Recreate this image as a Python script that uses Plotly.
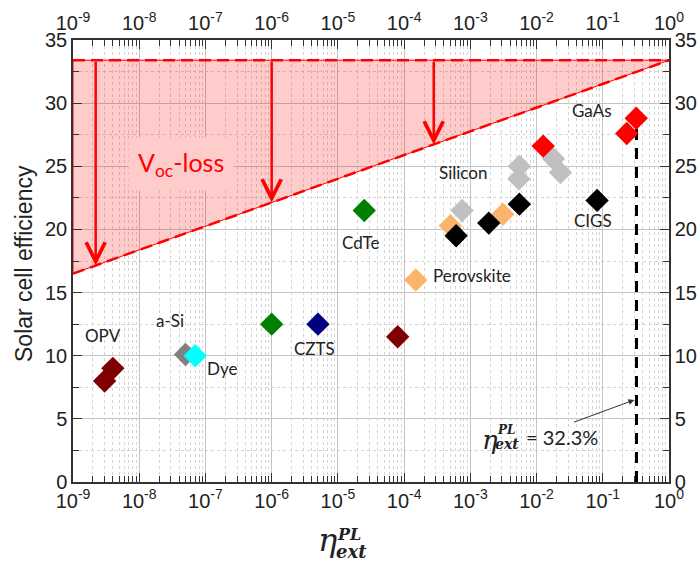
import numpy as np
import plotly.graph_objects as go

# External photoluminescence quantum efficiency (eta_ext^PL) vs. cell efficiency (%)
opv_eta = [3e-9, 4e-9, 8e-5]
opv_eff = [8.0, 9.0, 11.5]
asi_eta = [5e-8]
asi_eff = [10.1]
dye_eta = [7e-8]
dye_eff = [10.0]
cdte_eta = [1e-6, 2.5e-5]
cdte_eff = [12.5, 21.5]
czts_eta = [5e-6]
czts_eff = [12.5]
perov_eta = [1.5e-4, 5e-4, 3.1e-3]
perov_eff = [16.0, 20.3, 21.2]
si_eta = [7.5e-4, 5.5e-3, 5.4e-3, 1.8e-2, 2.3e-2]
si_eff = [21.5, 25.0, 24.0, 25.6, 24.5]
cigs_eta = [6.1e-4, 1.9e-3, 5.5e-3, 8.2e-2]
cigs_eff = [19.5, 20.5, 22.0, 22.3]
gaas_eta = [1.26e-2, 0.23, 0.32]
gaas_eff = [26.6, 27.6, 28.8]

# Radiative (SQ) limit and the Voc-loss boundary (straight in log eta)
sq_limit = 33.4
loss_eta = [1e-9, 1.0]
loss_eff = [16.5, 33.4]
arrow_eta = [2.2e-9, 1e-6, 2.8e-4]
best_eta = 0.323
best_eff = 28.8

# Axis ticks
x_tickvals = [1e-9, 1e-8, 1e-7, 1e-6, 1e-5, 1e-4, 1e-3, 1e-2, 1e-1, 1e0]
x_ticktext = ["10<sup>-9</sup>", "10<sup>-8</sup>", "10<sup>-7</sup>", "10<sup>-6</sup>",
              "10<sup>-5</sup>", "10<sup>-4</sup>", "10<sup>-3</sup>", "10<sup>-2</sup>",
              "10<sup>-1</sup>", "10<sup>0</sup>"]
y_tickvals = [0, 5, 10, 15, 20, 25, 30, 35]

labels = ["OPV", "a-Si", "Dye", "CZTS", "CdTe", "Perovskite", "Silicon", "GaAs", "CIGS"]
label_eta = [2.8e-9, 2.9e-8, 1.8e-7, 4.4e-6, 2.2e-5, 1.06e-3, 7.8e-4, 6.9e-2, 7.2e-2]
label_eff = [11.6, 12.8, 9.0, 10.6, 19.0, 16.35, 24.5, 29.4, 20.7]

minor_x = [m * 10.0 ** k for k in range(-9, 0) for m in range(2, 10)]

FONT = "Liberation Sans, Arial, sans-serif"
LBLFONT = "Lato, Open Sans, sans-serif"
MATH = "DejaVu Serif, serif"
INK = "#222222"

# Plot-area pixel geometry (used for paper-referenced text placement)
L, R, T, B = 73, 30, 40, 84
W, H = 699, 566
PW, PH = W - L - R, H - T - B


def px_x(p):
    return (p - L) / PW


def px_y(p):
    return (H - B - p) / PH


def note(px, py, text, size, family=MATH, **kw):
    d = dict(x=px_x(px), y=px_y(py), xref="paper", yref="paper", text=text,
             xanchor="center", yanchor="middle", showarrow=False,
             font=dict(family=family, size=size, color=INK))
    d.update(kw)
    return d


fig = go.Figure()

# Shaded Voc-loss region between the SQ limit and the loss boundary
fig.add_trace(go.Scatter(
    x=[loss_eta[0], loss_eta[1], loss_eta[0], loss_eta[0]],
    y=[sq_limit, sq_limit, loss_eff[0], sq_limit],
    mode="lines", fill="toself", fillcolor="rgba(255,0,0,0.2)",
    line=dict(color="#ff0000", width=1), hoverinfo="skip", showlegend=False))
fig.add_trace(go.Scatter(
    x=loss_eta, y=[sq_limit, sq_limit], mode="lines",
    line=dict(color="#ff0000", width=2.5, dash="12px,6px"),
    hoverinfo="skip", showlegend=False))
fig.add_trace(go.Scatter(
    x=loss_eta, y=loss_eff, mode="lines",
    line=dict(color="#ff0000", width=2.5, dash="12px,6px"),
    hoverinfo="skip", showlegend=False))

# Vertical marker at the best eta_ext
fig.add_trace(go.Scatter(
    x=[best_eta, best_eta], y=[0, best_eff], mode="lines",
    line=dict(color="#000000", width=3, dash="11px,8px"),
    hoverinfo="skip", showlegend=False))

series = [
    (opv_eta, opv_eff, "#7f0000"),
    (asi_eta, asi_eff, "#808080"),
    (dye_eta, dye_eff, "#00ffff"),
    (cdte_eta, cdte_eff, "#008000"),
    (czts_eta, czts_eff, "#000080"),
    (perov_eta, perov_eff, "#fbb46c"),
    (si_eta, si_eff, "#c0c0c0"),
    (cigs_eta, cigs_eff, "#000000"),
    (gaas_eta, gaas_eff, "#ff0000"),
]
for xs, ys, col in series:
    fig.add_trace(go.Scatter(
        x=xs, y=ys, mode="markers",
        marker=dict(symbol="diamond", size=18, color=col, line=dict(width=0)),
        showlegend=False))

# Invisible trace to carry the top and right mirror axes
fig.add_trace(go.Scatter(x=loss_eta, y=[0, 35], xaxis="x2", yaxis="y2",
                         mode="markers", marker=dict(opacity=0),
                         hoverinfo="skip", showlegend=False))

ann = []
# Voc-loss arrows
slope = (loss_eff[1] - loss_eff[0]) / (np.log10(loss_eta[1]) - np.log10(loss_eta[0]))
for e in arrow_eta:
    lx = np.log10(e)
    tip = loss_eff[0] + slope * (lx - np.log10(loss_eta[0]))
    ann.append(dict(x=lx, y=tip, ax=lx, ay=sq_limit, xref="x", yref="y",
                    axref="x", ayref="y", showarrow=True, arrowhead=5,
                    arrowsize=1.5, arrowwidth=2.5, arrowcolor="#ff0000", text=""))

ann.append(dict(x=np.log10(4.2e-8), y=25.2, xref="x", yref="y",
                xanchor="center", yanchor="middle",
                text="V<sub>oc</sub>-loss", showarrow=False,
                font=dict(family=LBLFONT, size=25, color="#ff0000"),
                bgcolor="#ffcccc", borderpad=9))

for t, ex, ef in zip(labels, label_eta, label_eff):
    ann.append(dict(x=np.log10(ex), y=ef, xref="x", yref="y", text=t,
                    xanchor="center", yanchor="middle",
                    showarrow=False, font=dict(family=LBLFONT, size=17, color=INK)))

# eta_ext^PL = 32.3 % callout
ann.append(dict(x=np.log10(0.3), y=6.5, ax=np.log10(3.5e-2), ay=4.7,
                xref="x", yref="y", axref="x", ayref="y", showarrow=True,
                arrowhead=2, arrowsize=1.2, arrowwidth=1, arrowcolor="#333333", text=""))

shapes = [dict(type="rect", xref="paper", yref="paper", layer="below",
               x0=px_x(474), x1=px_x(602), y0=px_y(456), y1=px_y(408),
               fillcolor="#ffffff", line=dict(width=0))]

ann += [
    note(490, 440, "<i>η</i>", 26),
    note(506, 430, "<i><b>PL</b></i>", 12),
    note(507, 444, "<i><b>ext</b></i>", 14),
    note(524, 437, "= 32.3%", 20, family=LBLFONT, xanchor="left"),
    # x-axis title
    note(327, 540, "<i>η</i>", 32),
    note(349, 534, "<i><b>PL</b></i>", 16),
    note(351, 551, "<i><b>ext</b></i>", 18),
    # y-axis title
    note(24, 264, "Solar cell efficiency", 23, family=FONT, textangle=-90),
]

axis_common = dict(
    showline=True, linecolor="#333333", linewidth=1.5, mirror=False,
    ticks="inside", tickcolor="#333333", tickwidth=1.2, ticklen=9,
    tickfont=dict(family=FONT, size=20, color=INK),
    zeroline=False, layer="above traces", automargin=False)

xcommon = dict(axis_common, type="log", range=[-9, 0], tickmode="array",
               tickvals=x_tickvals, ticktext=x_ticktext)
ycommon = dict(axis_common, range=[0, 35], tickmode="array", tickvals=y_tickvals)

fig.update_layout(
    width=W, height=H,
    margin=dict(l=L, r=R, t=T, b=B),
    paper_bgcolor="#ffffff", plot_bgcolor="#ffffff",
    showlegend=False,
    xaxis=dict(xcommon, showgrid=True, gridcolor="#c4c4c4", gridwidth=1,
               minor=dict(tickvals=minor_x, ticks="inside", ticklen=6,
                          tickcolor="#333333", tickwidth=1, showgrid=True,
                          gridcolor="#d4d4d4", griddash="dot", gridwidth=1)),
    yaxis=dict(ycommon, showgrid=True, gridcolor="#c4c4c4", gridwidth=1,
               minor=dict(dtick=2.5, tick0=0, ticks="inside", ticklen=6,
                          tickcolor="#333333", tickwidth=1, showgrid=True,
                          gridcolor="#d4d4d4", griddash="dot", gridwidth=1)),
    xaxis2=dict(xcommon, overlaying="x", side="top", anchor="y2", showgrid=False,
                minor=dict(tickvals=minor_x, ticks="inside", ticklen=6,
                           tickcolor="#333333", tickwidth=1, showgrid=False)),
    yaxis2=dict(ycommon, overlaying="y", side="right", anchor="x2", showgrid=False,
                minor=dict(dtick=2.5, tick0=0, ticks="inside", ticklen=6,
                           tickcolor="#333333", tickwidth=1, showgrid=False)),
    annotations=ann,
    shapes=shapes,
)

fig.write_html("out.html")
